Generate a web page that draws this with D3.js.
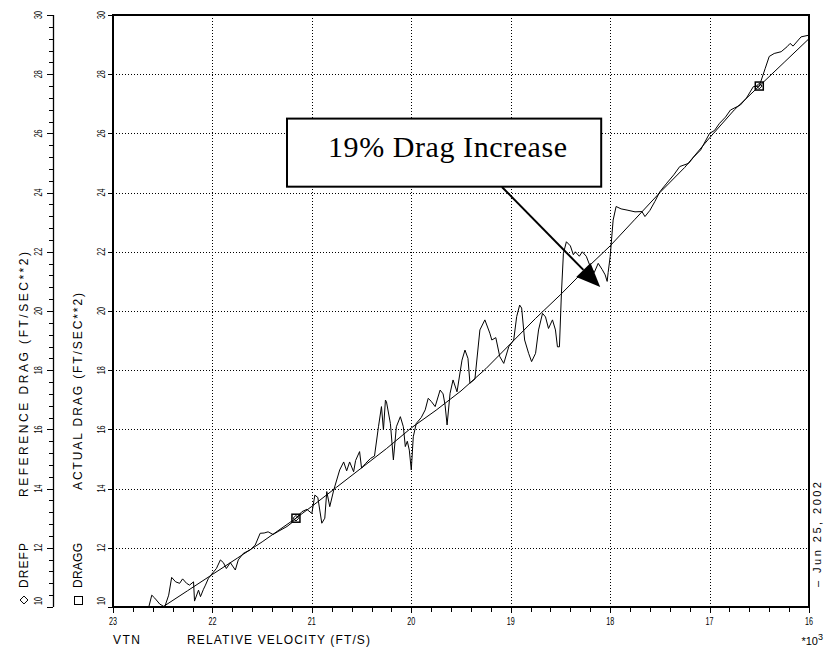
<!DOCTYPE html>
<html>
<head>
<meta charset="utf-8">
<script src="https://cdn.jsdelivr.net/npm/d3@7"></script>
<style>
body { margin: 0; background: #fff; }
text { font-family: "Liberation Sans", Arial, sans-serif; fill: #000; }
</style>
</head>
<body>
<script>
// reference drag (smooth curve), velocity in ft/s *10^3
var refVelocity = [22.50, 22.25, 22.00, 21.75, 21.50, 21.16, 21.00, 20.75, 20.50, 20.25, 20.00, 19.75, 19.50,
	19.25, 19.00, 18.75, 18.50, 18.25, 18.00, 17.75, 17.50, 17.25, 17.00, 16.75, 16.50, 16.25, 16.00];
var refDrag = [10.00, 10.55, 11.10, 11.65, 12.20, 13.00, 13.40, 14.05, 14.70, 15.35, 16.05, 16.65, 17.30,
	18.05, 18.90, 19.75, 20.55, 21.40, 22.20, 23.10, 24.00, 24.85, 25.85, 26.80, 27.60, 28.40, 29.20];

// actual drag (noisy)
var actVelocity = [22.64, 22.61, 22.58, 22.53, 22.48, 22.44, 22.41, 22.37, 22.33, 22.30, 22.26, 22.23, 22.19, 22.18,
	22.14, 22.12, 22.09, 22.07, 22.04, 22.00, 21.96, 21.92, 21.89, 21.86, 21.82, 21.77, 21.74, 21.69, 21.62, 21.57,
	21.52, 21.48, 21.44, 21.39, 21.34, 21.25, 21.20, 21.16, 21.10, 21.05, 21.00, 20.97, 20.94, 20.90, 20.87, 20.85,
	20.82, 20.78, 20.72, 20.68, 20.65, 20.62, 20.58, 20.56, 20.52, 20.50, 20.46, 20.41, 20.37, 20.33, 20.30, 20.28,
	20.26, 20.25, 20.21, 20.18, 20.15, 20.11, 20.08, 20.06, 20.04, 20.02, 20.00, 19.98, 19.95, 19.90, 19.86, 19.83,
	19.80, 19.76, 19.71, 19.68, 19.66, 19.64, 19.61, 19.58, 19.54, 19.49, 19.46, 19.43, 19.41, 19.36, 19.31, 19.26,
	19.21, 19.19, 19.15, 19.11, 19.07, 19.02, 18.97, 18.94, 18.91, 18.89, 18.86, 18.82, 18.79, 18.75, 18.72, 18.68,
	18.65, 18.62, 18.58, 18.55, 18.53, 18.51, 18.49, 18.47, 18.44, 18.40, 18.37, 18.35, 18.31, 18.28, 18.24, 18.20,
	18.16, 18.12, 18.08, 18.05, 18.03, 18.02, 18.00, 17.97, 17.94, 17.89, 17.83, 17.75, 17.68, 17.65, 17.60, 17.55,
	17.50, 17.43, 17.36, 17.30, 17.21, 17.16, 17.09, 17.00, 16.95, 16.90, 16.84, 16.79, 16.69, 16.63, 16.56, 16.50,
	16.44, 16.40, 16.35, 16.28, 16.22, 16.19, 16.16, 16.08, 16.00];
var actDrag = [10.00, 10.40, 10.30, 10.10, 10.00, 10.40, 11.00, 10.85, 10.80, 10.95, 10.80, 10.74, 10.85, 10.20,
	10.57, 10.35, 10.60, 10.74, 10.97, 11.14, 11.30, 11.59, 11.50, 11.30, 11.50, 11.25, 11.59, 11.81, 11.93, 12.09,
	12.49, 12.50, 12.54, 12.45, 12.55, 12.72, 12.85, 13.00, 13.22, 13.30, 13.16, 13.78, 13.70, 12.83, 13.00, 13.90,
	13.39, 13.95, 14.63, 14.90, 14.60, 14.90, 14.57, 14.95, 15.25, 14.69, 14.85, 15.02, 15.10, 16.09, 16.77, 15.98,
	16.99, 16.94, 16.20, 14.97, 16.09, 16.43, 16.09, 15.42, 15.60, 15.30, 14.63, 15.75, 16.20, 16.40, 16.66, 17.05,
	16.95, 16.77, 17.33, 17.20, 16.82, 16.15, 17.22, 17.67, 17.27, 18.34, 18.68, 18.40, 17.56, 17.70, 19.36, 19.70,
	19.25, 19.02, 19.10, 18.46, 18.23, 18.79, 19.02, 19.81, 20.20, 20.10, 19.02, 18.57, 18.29, 18.57, 19.36, 19.92,
	19.80, 19.41, 19.70, 19.36, 18.79, 18.79, 20.60, 21.95, 22.34, 22.20, 21.90, 22.00, 21.85, 22.00, 21.85, 21.50,
	21.30, 21.61, 21.40, 21.22, 21.00, 21.30, 21.83, 23.07, 23.53, 23.45, 23.41, 23.35, 23.36, 23.19, 23.40, 23.70,
	24.03, 24.32, 24.60, 24.88, 24.99, 25.20, 25.44, 26.00, 26.10, 26.34, 26.55, 26.79, 26.96, 27.19, 27.58, 27.60,
	28.20, 28.60, 28.70, 28.76, 28.93, 29.04, 28.95, 29.26, 29.32];

var markerVelocity = [21.16, 16.50];

var xTicks = [23, 22, 21, 20, 19, 18, 17, 16];
var yTicks = [10, 12, 14, 16, 18, 20, 22, 24, 26, 28, 30];

// annotation box and arrow, in data units
var noteText = "19% Drag Increase";
var noteBox = { v0: 21.25, v1: 18.09, d0: 26.50, d1: 24.20 };
var noteArrow = { v0: 19.088, d0: 24.19, v1: 18.10, d1: 20.81 };

render();

function render(){

	var W = 830, H = 651,
		plot = { left: 113, right: 809, top: 15, bot: 607 },
		leftAxisX = 53;

	var svg = d3.select("body").append("svg")
		.attr("width", W)
		.attr("height", H);

	var x = d3.scaleLinear().domain([23, 16]).range([plot.left, plot.right]),
		y = d3.scaleLinear().domain([10, 30]).range([plot.bot, plot.top]);

	// dotted grid
	var grid = svg.append("g")
		.attr("stroke", "#000")
		.attr("stroke-width", 1)
		.attr("stroke-dasharray", "1,2");

	grid.selectAll("line.gx").data(xTicks.slice(1, -1)).enter().append("line")
		.attr("x1", function(d){ return Math.round(x(d)) + 0.5; })
		.attr("x2", function(d){ return Math.round(x(d)) + 0.5; })
		.attr("y1", plot.top)
		.attr("y2", plot.bot);

	grid.selectAll("line.gy").data(yTicks.slice(1, -1)).enter().append("line")
		.attr("y1", function(d){ return Math.round(y(d)) + 0.5; })
		.attr("y2", function(d){ return Math.round(y(d)) + 0.5; })
		.attr("x1", plot.left)
		.attr("x2", plot.right);

	// x axis ticks (minor every 0.2)
	var xMinor = d3.range(16, 23.001, 0.2);
	svg.append("g").selectAll("line").data(xMinor).enter().append("line")
		.attr("x1", function(d){ return Math.round(x(d)) + 0.5; })
		.attr("x2", function(d){ return Math.round(x(d)) + 0.5; })
		.attr("y1", plot.bot)
		.attr("y2", function(d){ return plot.bot + (Math.abs(d - Math.round(d)) < 0.01 ? 6 : 5); })
		.attr("stroke", "#000");

	svg.append("g").selectAll("text").data(xTicks).enter().append("text")
		.attr("x", function(d){ return x(d); })
		.attr("y", 625)
		.attr("text-anchor", "middle")
		.attr("textLength", 8)
		.attr("lengthAdjust", "spacingAndGlyphs")
		.style("font-size", "11px")
		.text(function(d){ return d; });

	// main y axis ticks and labels
	svg.append("g").selectAll("line").data(yTicks).enter().append("line")
		.attr("x1", plot.left - 5)
		.attr("x2", plot.left)
		.attr("y1", function(d){ return Math.round(y(d)) + 0.5; })
		.attr("y2", function(d){ return Math.round(y(d)) + 0.5; })
		.attr("stroke", "#000");

	yLabels(101);

	// reference drag axis on the far left
	var la = svg.append("g").attr("stroke", "#000");
	la.append("line")
		.attr("x1", leftAxisX + 0.5).attr("x2", leftAxisX + 0.5)
		.attr("y1", plot.top).attr("y2", plot.bot)
		.attr("stroke-width", 1.3);
	la.selectAll("line.t").data(d3.range(10, 30.001, 0.4)).enter().append("line")
		.attr("x1", function(d){ return leftAxisX - (Math.abs(d / 2 - Math.round(d / 2)) < 0.01 ? 6 : 4); })
		.attr("x2", leftAxisX)
		.attr("y1", function(d){ return Math.round(y(d)) + 0.5; })
		.attr("y2", function(d){ return Math.round(y(d)) + 0.5; });

	yLabels(38);

	function yLabels(cx){
		svg.append("g").selectAll("text").data(yTicks).enter().append("text")
			.attr("transform", function(d){ return "translate(" + cx + "," + Math.min(y(d), 601) + ") rotate(-90)"; })
			.attr("dy", "0.35em")
			.attr("text-anchor", "middle")
			.attr("textLength", 8)
			.attr("lengthAdjust", "spacingAndGlyphs")
			.style("font-size", "11px")
			.text(function(d){ return d; });
	}

	// axis titles
	vText(24, 588, "DREFP", 45, 12);
	vText(24, 497, "REFERENCE DRAG (FT/SEC**2)", 245, 12);
	vText(78, 588, "DRAGG", 45, 12);
	vText(78, 490, "ACTUAL DRAG (FT/SEC**2)", 197, 12);

	svg.append("path")
		.attr("d", d3.symbol().type(d3.symbolDiamond2).size(40)())
		.attr("transform", "translate(24,600)")
		.attr("fill", "none").attr("stroke", "#000");
	svg.append("rect")
		.attr("x", 74.5).attr("y", 596.5).attr("width", 8).attr("height", 8)
		.attr("fill", "none").attr("stroke", "#000");

	svg.append("text").attr("x", 113).attr("y", 644)
		.attr("textLength", 27).attr("lengthAdjust", "spacing")
		.style("font-size", "12px").text("VTN");
	svg.append("text").attr("x", 187).attr("y", 644)
		.attr("textLength", 183).attr("lengthAdjust", "spacing")
		.style("font-size", "12px").text("RELATIVE VELOCITY (FT/S)");

	var ex = svg.append("text").attr("x", 823).attr("y", 645)
		.attr("text-anchor", "end")
		.style("font-size", "11px");
	ex.append("tspan").text("*10");
	ex.append("tspan").attr("dy", -5).style("font-size", "9px").text("3");

	vText(817, 587, "\u2013 Jun 25, 2002", 105, 11);

	function vText(tx, ty, str, len, size){
		var t = svg.append("text")
			.attr("transform", "translate(" + tx + "," + ty + ") rotate(-90)")
			.attr("dy", "0.35em")
			.style("font-size", size + "px")
			.text(str);
		if (len) t.attr("textLength", len).attr("lengthAdjust", "spacing");
		return t;
	}

	// series
	var refData = refVelocity.map(function(v, i){ return { v: v, d: refDrag[i] }; }),
		actData = actVelocity.map(function(v, i){ return { v: v, d: actDrag[i] }; });

	var line = d3.line()
		.x(function(p){ return x(p.v); })
		.y(function(p){ return y(p.d); });

	svg.append("path").datum(refData)
		.attr("d", line)
		.attr("fill", "none").attr("stroke", "#000").attr("stroke-width", 1);

	svg.append("path").datum(actData)
		.attr("d", line)
		.attr("fill", "none").attr("stroke", "#000").attr("stroke-width", 1);

	// markers on both series
	var refMarks = refData.filter(function(p){ return markerVelocity.indexOf(p.v) >= 0; }),
		actMarks = actData.filter(function(p){ return markerVelocity.indexOf(p.v) >= 0; });

	svg.selectAll("rect.mk").data(actMarks).enter().append("rect")
		.attr("x", function(p){ return x(p.v) - 4; })
		.attr("y", function(p){ return y(p.d) - 4; })
		.attr("width", 8).attr("height", 8)
		.attr("fill", "none").attr("stroke", "#000").attr("stroke-width", 1.5);

	svg.selectAll("path.mk").data(refMarks).enter().append("path")
		.attr("d", d3.symbol().type(d3.symbolDiamond2).size(20)())
		.attr("transform", function(p){ return "translate(" + x(p.v) + "," + y(p.d) + ")"; })
		.attr("fill", "none").attr("stroke", "#000");

	// frame
	svg.append("rect")
		.attr("x", plot.left).attr("y", plot.top)
		.attr("width", plot.right - plot.left).attr("height", plot.bot - plot.top)
		.attr("fill", "none").attr("stroke", "#000").attr("stroke-width", 2);

	// annotation
	var bx0 = x(noteBox.v0), bx1 = x(noteBox.v1), by0 = y(noteBox.d0), by1 = y(noteBox.d1);
	svg.append("rect")
		.attr("x", bx0).attr("y", by0)
		.attr("width", bx1 - bx0).attr("height", by1 - by0)
		.attr("fill", "#fff").attr("stroke", "#000").attr("stroke-width", 2);

	svg.append("text")
		.attr("x", bx0 + 41).attr("y", by0 + 38)
		.attr("textLength", 239).attr("lengthAdjust", "spacing")
		.style("font-family", "'Liberation Serif', 'Times New Roman', serif")
		.style("font-size", "30px")
		.text(noteText);

	var ax0 = x(noteArrow.v0), ay0 = y(noteArrow.d0), ax1 = x(noteArrow.v1), ay1 = y(noteArrow.d1),
		ang = Math.atan2(ay1 - ay0, ax1 - ax0),
		hl = 24, hw = 10,
		bxh = ax1 - hl * Math.cos(ang), byh = ay1 - hl * Math.sin(ang);

	svg.append("line")
		.attr("x1", ax0).attr("y1", ay0)
		.attr("x2", bxh).attr("y2", byh)
		.attr("stroke", "#000").attr("stroke-width", 2);

	svg.append("path")
		.attr("d", "M" + ax1 + "," + ay1 +
			"L" + (bxh + hw * Math.sin(ang)) + "," + (byh - hw * Math.cos(ang)) +
			"L" + (bxh - hw * Math.sin(ang)) + "," + (byh + hw * Math.cos(ang)) + "Z")
		.attr("fill", "#000");
}
</script>
</body>
</html>
